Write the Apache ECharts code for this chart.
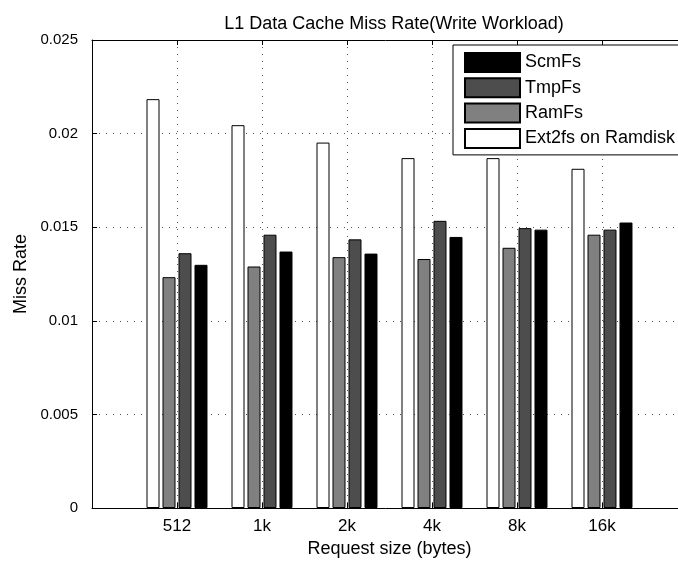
<!DOCTYPE html>
<html>
<head>
<meta charset="utf-8">
<script src="https://cdn.jsdelivr.net/npm/echarts@6/dist/echarts.min.js"></script>
<style>html,body{margin:0;padding:0;background:#fff;}#c{width:678px;height:562px;}</style>
</head>
<body>
<div id="c"></div>
<script>
var categories = ['512', '1k', '2k', '4k', '8k', '16k'];
var ext2fs = [0.02184, 0.02045, 0.01952, 0.01869, 0.01869, 0.01812];
var ramfs  = [0.01233, 0.0129, 0.0134, 0.0133, 0.0139, 0.0146];
var tmpfs  = [0.01361, 0.0146, 0.01435, 0.01534, 0.01495, 0.01487];
var scmfs  = [0.01299, 0.0137, 0.01359, 0.01448, 0.01487, 0.01525];
var yTicks = [0, 0.005, 0.01, 0.015, 0.02, 0.025];

function pts(arr) { return arr.map(function (v, i) { return [i + 1, v]; }); }
var font = 'Liberation Sans, Arial, Helvetica, sans-serif';
var chart = echarts.init(document.getElementById('c'), null, {renderer: 'canvas'});
function mk(name, arr, color) {
  return {
    name: name, type: 'bar', data: pts(arr), barWidth: 13, barGap: '23%',
    itemStyle: {color: color, borderColor: '#000', borderWidth: 1},
    emphasis: {disabled: true}, animation: false
  };
}
var gridLine = {show: true, lineStyle: {color: '#555', type: [1, 6], width: 1}};
chart.setOption({
  animation: false,
  backgroundColor: '#fff',
  title: {
    text: 'L1 Data Cache Miss Rate(Write Workload)', left: 389, top: 10, textAlign: 'center',
    textStyle: {fontFamily: font, fontSize: 18, fontWeight: 'normal', color: '#000'}
  },
  legend: {
    data: ['ScmFs', 'TmpFs', 'RamFs', 'Ext2fs on Ramdisk'],
    orient: 'vertical', left: 453, top: 45,
    itemWidth: 55, itemHeight: 19, itemGap: 4.3,
    padding: [7, 20, 6, 11],
    backgroundColor: '#fff', borderColor: '#000', borderWidth: 1, borderRadius: 0,
    icon: 'rect',
    textStyle: {fontFamily: font, fontSize: 18, color: '#000'},
    selectedMode: false
  },
  grid: {left: 92, top: 40, width: 595, bottom: 54, containLabel: false, outerBoundsMode: 'none'},
  xAxis: [{
    type: 'value', min: 0, max: 7, interval: 1, position: 'bottom',
    name: 'Request size (bytes)', nameLocation: 'middle', nameGap: 31,
    nameTextStyle: {fontFamily: font, fontSize: 18, color: '#000'},
    axisLine: {show: true, onZero: false, lineStyle: {color: '#000', width: 1}},
    axisTick: {show: true, inside: true, length: 5, lineStyle: {color: '#000'}},
    axisLabel: {
      fontFamily: font, fontSize: 17, color: '#000', margin: 10,
      formatter: function (v) { return (v >= 1 && v <= categories.length) ? categories[v - 1] : ''; }
    },
    splitLine: gridLine
  }, {
    type: 'value', min: 0, max: 7, interval: 1, position: 'top',
    axisLine: {show: true, onZero: false, lineStyle: {color: '#000', width: 1}},
    axisTick: {show: true, inside: true, length: 5, lineStyle: {color: '#000'}},
    axisLabel: {show: false}, splitLine: {show: false}
  }],
  yAxis: [{
    type: 'value', min: 0, max: 0.025, interval: 0.005,
    name: 'Miss Rate', nameLocation: 'middle', nameGap: 61,
    nameTextStyle: {fontFamily: font, fontSize: 18, color: '#000'},
    axisLine: {show: true, onZero: false, lineStyle: {color: '#000', width: 1}},
    axisTick: {show: true, inside: true, length: 5, lineStyle: {color: '#000'}},
    axisLabel: {
      fontFamily: font, fontSize: 15, color: '#000', margin: 14,
      formatter: function (v) {
        for (var i = 0; i < yTicks.length; i++) if (Math.abs(v - yTicks[i]) < 1e-9) return String(yTicks[i]);
        return '';
      }
    },
    splitLine: gridLine
  }],
  series: [
    mk('Ext2fs on Ramdisk', ext2fs, '#ffffff'),
    mk('RamFs', ramfs, '#808080'),
    mk('TmpFs', tmpfs, '#4d4d4d'),
    mk('ScmFs', scmfs, '#000000')
  ]
});
</script>
</body>
</html>
